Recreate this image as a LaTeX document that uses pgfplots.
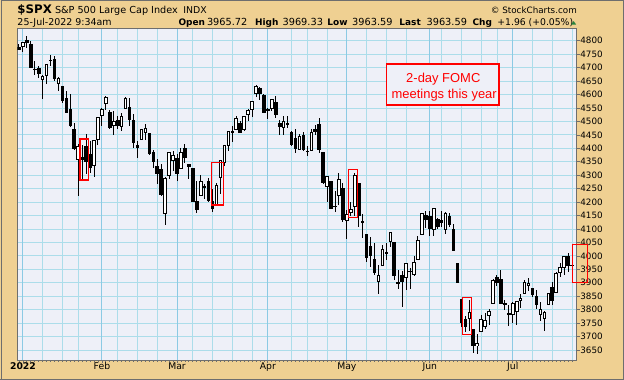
\documentclass[border=0pt]{standalone}
\usepackage{fontspec}
\setmainfont{DejaVu Sans}
\newfontfamily\arial{Liberation Sans}
\usepackage{pgfplots}
\usepackage{pgfplotstable}
\pgfplotsset{compat=1.18}
\definecolor{beige}{RGB}{239,208,146}
\definecolor{plotbg}{RGB}{238,240,248}
\definecolor{gridc}{RGB}{172,221,234}
\definecolor{monthc}{RGB}{140,202,228}
\definecolor{framec}{RGB}{110,110,110}
\definecolor{upgreen}{RGB}{40,130,60}

\pgfplotstableread{
i O H L C
0 4775.21 4786.83 4765.75 4766.18
1 4778.14 4796.64 4758.17 4796.56
2 4804.51 4818.62 4774.27 4793.54
3 4787.99 4797.70 4699.44 4700.58
4 4693.39 4725.01 4671.26 4696.05
5 4697.66 4707.95 4662.74 4677.03
6 4655.34 4673.02 4582.24 4670.29
7 4669.14 4714.13 4638.27 4713.07
8 4728.59 4748.83 4706.71 4726.35
9 4733.56 4744.13 4650.29 4659.03
10 4637.99 4665.13 4614.75 4662.85
11 4632.24 4632.24 4568.70 4577.11
12 4588.03 4611.55 4530.20 4532.76
13 4547.35 4602.11 4477.95 4482.73
14 4471.38 4494.52 4395.34 4397.94
15 4356.32 4417.35 4222.62 4410.13
16 4366.64 4411.01 4287.11 4356.45
17 4408.43 4453.23 4304.80 4349.93
18 4380.58 4428.74 4309.50 4326.51
19 4336.19 4432.72 4292.46 4431.85
20 4431.79 4516.89 4414.02 4515.55
21 4519.57 4550.49 4483.53 4546.54
22 4566.39 4595.31 4544.32 4589.38
23 4535.41 4542.88 4470.39 4477.44
24 4482.79 4539.66 4451.50 4500.53
25 4505.75 4521.86 4471.47 4483.87
26 4480.02 4531.32 4465.40 4521.54
27 4547.00 4590.03 4547.00 4587.18
28 4553.24 4588.92 4484.31 4504.08
29 4506.27 4526.33 4401.41 4418.64
30 4412.61 4426.22 4364.84 4401.67
31 4429.28 4472.77 4429.28 4471.07
32 4455.75 4489.55 4429.68 4475.01
33 4456.06 4456.06 4373.81 4380.26
34 4384.57 4394.60 4327.22 4348.87
35 4332.74 4362.12 4267.11 4304.76
36 4324.93 4341.51 4221.51 4225.50
37 4155.77 4294.73 4114.65 4288.70
38 4298.38 4385.34 4286.83 4384.65
39 4354.17 4388.84 4315.12 4373.94
40 4363.14 4378.45 4279.54 4306.26
41 4322.56 4401.48 4322.56 4386.54
42 4401.31 4416.78 4345.56 4363.49
43 4342.12 4342.12 4284.98 4328.87
44 4327.01 4327.01 4199.85 4201.09
45 4202.66 4276.94 4157.87 4170.70
46 4223.10 4299.40 4223.10 4277.88
47 4252.55 4268.28 4209.80 4259.52
48 4279.50 4291.01 4200.49 4204.31
49 4202.75 4247.57 4161.72 4173.11
50 4188.82 4271.05 4187.90 4262.45
51 4288.14 4357.86 4229.34 4357.86
52 4345.11 4412.67 4335.65 4411.67
53 4407.34 4465.40 4390.57 4463.12
54 4462.40 4481.75 4424.30 4461.18
55 4469.10 4522.00 4469.10 4511.61
56 4493.10 4501.07 4455.81 4456.24
57 4469.98 4520.58 4465.17 4520.16
58 4522.91 4546.03 4501.07 4543.06
59 4541.09 4575.65 4517.69 4575.52
60 4602.86 4637.30 4589.66 4631.60
61 4624.20 4627.77 4581.32 4602.45
62 4599.02 4603.07 4530.41 4530.41
63 4540.32 4548.70 4507.57 4545.86
64 4547.97 4583.50 4539.21 4582.64
65 4572.45 4593.45 4514.17 4525.12
66 4494.17 4503.94 4450.04 4481.15
67 4474.65 4521.16 4450.30 4500.21
68 4494.15 4520.41 4474.60 4488.28
69 4462.64 4464.35 4408.38 4412.53
70 4437.59 4471.00 4381.34 4397.45
71 4394.30 4453.92 4392.70 4446.59
72 4449.12 4460.46 4390.77 4392.59
73 4385.63 4410.31 4370.30 4391.69
74 4390.63 4471.03 4390.63 4462.21
75 4472.26 4488.29 4448.76 4459.45
76 4489.17 4512.94 4384.47 4393.66
77 4385.83 4385.83 4267.62 4271.78
78 4255.34 4299.02 4200.82 4296.12
79 4278.14 4278.14 4175.04 4175.20
80 4186.52 4240.71 4162.90 4183.96
81 4222.58 4308.45 4188.63 4287.50
82 4253.75 4269.68 4124.28 4131.93
83 4130.61 4169.81 4062.51 4155.38
84 4159.78 4200.10 4147.08 4175.48
85 4181.18 4307.66 4148.91 4300.17
86 4270.43 4270.43 4106.01 4146.87
87 4128.17 4157.69 4067.91 4123.34
88 4081.27 4081.27 3975.48 3991.24
89 4035.18 4068.82 3958.17 4001.05
90 3990.08 4049.09 3928.82 3935.18
91 3903.95 3964.80 3858.87 3930.08
92 3963.90 4038.88 3963.90 4023.89
93 4013.02 4046.46 3983.99 4008.01
94 4052.00 4090.72 4033.93 4088.85
95 4051.98 4051.98 3911.91 3923.68
96 3899.00 3945.96 3876.58 3900.79
97 3927.76 3943.42 3810.32 3901.36
98 3919.42 3975.30 3872.38 3973.75
99 3942.94 3955.68 3875.13 3941.48
100 3929.59 3999.33 3925.03 3978.73
101 3984.60 4075.14 3984.60 4057.84
102 4077.43 4158.49 4077.43 4158.24
103 4151.09 4168.34 4104.88 4132.15
104 4149.78 4166.54 4073.85 4101.23
105 4095.41 4177.51 4074.37 4176.82
106 4137.57 4142.67 4098.67 4108.54
107 4134.72 4168.78 4109.18 4121.43
108 4096.47 4164.86 4080.19 4160.68
109 4147.12 4160.14 4107.20 4115.77
110 4101.65 4119.10 4017.17 4017.82
111 3974.39 3974.39 3900.16 3900.86
112 3838.15 3838.15 3734.30 3749.63
113 3763.52 3778.18 3715.51 3735.48
114 3764.05 3837.56 3722.30 3789.99
115 3728.18 3728.18 3639.77 3666.77
116 3665.90 3707.71 3636.87 3674.84
117 3715.31 3779.65 3715.31 3764.79
118 3733.89 3785.99 3729.25 3759.89
119 3774.71 3802.58 3743.52 3795.73
120 3821.75 3913.65 3821.75 3911.74
121 3920.76 3927.72 3889.66 3900.11
122 3913.00 3945.86 3820.14 3821.55
123 3825.09 3836.50 3799.02 3818.83
124 3785.99 3818.99 3738.67 3785.38
125 3781.00 3829.82 3752.10 3825.33
126 3792.61 3832.19 3742.06 3831.39
127 3831.98 3858.94 3805.87 3845.08
128 3858.85 3910.63 3858.85 3902.62
129 3888.26 3918.50 3869.34 3899.38
130 3880.94 3880.94 3847.22 3854.43
131 3851.95 3873.41 3802.36 3818.80
132 3779.67 3829.44 3759.07 3801.78
133 3763.99 3796.41 3721.56 3790.38
134 3818.00 3863.62 3817.18 3863.16
135 3883.79 3902.44 3818.63 3830.85
136 3860.73 3939.81 3860.73 3936.69
137 3935.32 3974.13 3922.03 3959.90
138 3955.47 3999.29 3927.64 3998.95
139 4000.20 4012.44 3938.85 3961.63
140 3965.72 3969.33 3963.59 3963.59
}\candles

\begin{document}
\begin{tikzpicture}
\useasboundingbox (0,0) rectangle (624bp,380bp);
\fill[beige] (0,0) rectangle (624bp,380bp);
\draw[framec, line width=1bp] (1bp,0) -- (1bp,379bp) -- (623bp,379bp) -- (623bp,1bp) -- (0,1bp);
% header line 1
\node[anchor=base west, inner sep=0, font=\bfseries\fontsize{11.8}{12}\selectfont] at (17.3bp,366.5bp) {\$SPX};
\node[anchor=base west, inner sep=0, font=\fontsize{9.7}{10}\selectfont] at (54.8bp,366.5bp) {S\&P 500 Large Cap Index};
\node[anchor=base west, inner sep=0, font=\fontsize{9.4}{10}\selectfont] at (183.2bp,366.5bp) {INDX};
\node[anchor=base east, inner sep=0, font=\fontsize{8.8}{10}\selectfont] at (577bp,366.5bp) {© StockCharts.com};
% header line 2
\node[anchor=base west, inner sep=0, font=\fontsize{9.5}{10}\selectfont] at (17.3bp,354.5bp) {25-Jul-2022 9:34am};
\node[anchor=base west, inner sep=0, font=\bfseries\fontsize{9}{10}\selectfont] at (178.4bp,354.5bp) {Open};
\node[anchor=base west, inner sep=0, font=\fontsize{9.8}{10}\selectfont] at (206.8bp,354.5bp) {3965.72};
\node[anchor=base west, inner sep=0, font=\bfseries\fontsize{9}{10}\selectfont] at (254.8bp,354.5bp) {High};
\node[anchor=base west, inner sep=0, font=\fontsize{9.8}{10}\selectfont] at (282.4bp,354.5bp) {3969.33};
\node[anchor=base west, inner sep=0, font=\bfseries\fontsize{9}{10}\selectfont] at (327.2bp,354.5bp) {Low};
\node[anchor=base west, inner sep=0, font=\fontsize{9.8}{10}\selectfont] at (352bp,354.5bp) {3963.59};
\node[anchor=base west, inner sep=0, font=\bfseries\fontsize{9}{10}\selectfont] at (399.2bp,354.5bp) {Last};
\node[anchor=base west, inner sep=0, font=\fontsize{9.8}{10}\selectfont] at (426.4bp,354.5bp) {3963.59};
\node[anchor=base west, inner sep=0, font=\bfseries\fontsize{9}{10}\selectfont] at (472.4bp,354.5bp) {Chg};
\node[anchor=base west, inner sep=0, font=\fontsize{9.3}{10}\selectfont] at (497.2bp,354.5bp) {+1.96 (+0.05\%)};
\fill[upgreen] (571bp,355.4bp) -- (576.2bp,355.4bp) -- (573.6bp,358.9bp) -- cycle;

\begin{axis}[
  at={(17.3bp,19.5bp)}, anchor=south west,
  scale only axis, width=559.4bp, height=331.8bp,
  xmin=-0.43, xmax=141.19, ymin=3611, ymax=4845,
  axis background/.style={fill=plotbg},
  axis line style={draw=framec, line width=1bp},
  tick align=outside,
  major tick length=3bp, minor tick length=1.5bp,
  xtick={1,21,40,63,83,104,125},
  xticklabels={\textbf{2022},Feb,Mar,Apr,May,Jun,Jul},
  minor xtick={0,1,...,140},
  xtick pos=bottom,
  ytick={3650,3700,...,4800},
  ytick pos=right, yticklabel pos=right,
  ymajorgrids,
  major grid style={gridc, line width=0.9bp},
  tick style={draw=framec, line width=0.8bp},
  xticklabel style={font=\fontsize{9.3}{10}\selectfont, anchor=base, yshift=-5.8bp},
  yticklabel style={font=\fontsize{8.8}{10}\selectfont, anchor=west, inner sep=0.5bp},
  /pgf/number format/.cd, 1000 sep={}, assume math mode=true,
]
% weekly grid lines
\foreach \w in {6,11,15,25,30,35,44,49,54,59,69,73,78,88,93,98,107,112,117,121,130,135,140}{
  \edef\tmp{\noexpand\draw[gridc, line width=0.9bp] (axis cs:\w,3611) -- (axis cs:\w,4845);}\tmp
}
% month grid lines
\foreach \m in {1,21,40,63,83,104,125}{
  \edef\tmp{\noexpand\draw[monthc, line width=1bp] (axis cs:\m,3611) -- (axis cs:\m,4845);}\tmp
}
% wicks
\addplot[draw=none, mark=none, error bars/.cd, y dir=both, y explicit, error mark=none,
  error bar style={line width=1bp, draw=black}]
  table[x=i, y expr={(\thisrow{H}+\thisrow{L})/2}, y error expr={(\thisrow{H}-\thisrow{L})/2}] {\candles};
% bodies (outer black)
\addplot[draw=none, mark=none, error bars/.cd, y dir=both, y explicit, error mark=none,
  error bar style={line width=3.6bp, draw=black}]
  table[x=i, y expr={(\thisrow{O}+\thisrow{C})/2}, y error expr={max(abs(\thisrow{C}-\thisrow{O})/2,2)}] {\candles};
% hollow interiors
\addplot[draw=none, mark=none, error bars/.cd, y dir=both, y explicit, error mark=none,
  error bar style={line width=1.6bp, draw=white}]
  table[x=i, y expr={ifthenelse(\thisrow{C}>\thisrow{O},(\thisrow{O}+\thisrow{C})/2,3000)}, y error expr={max((\thisrow{C}-\thisrow{O})/2-3.7,0)}] {\candles};
% FOMC boxes
\draw[red, line width=1.2bp] (axis cs:15.44,4282) rectangle (axis cs:17.54,4435);
\draw[red, line width=1.2bp] (axis cs:48.68,4189) rectangle (axis cs:51.72,4348);
\draw[red, line width=1.2bp] (axis cs:83.37,4143) rectangle (axis cs:85.65,4322);
\draw[red, line width=1.2bp] (axis cs:112.2,3707) rectangle (axis cs:114.5,3846);
\coordinate (jula) at (axis cs:140.1,3902);
\coordinate (julb) at (axis cs:143.9,4043);
\end{axis}
\draw[red, line width=1.2bp] (jula) rectangle (julb);
% annotation box
\draw[red, line width=1.2bp, fill=plotbg] (386.7bp,275bp) rectangle (499bp,316bp);
\node[anchor=base, inner sep=0, text=red, font=\arial\fontsize{13}{14}\selectfont] at (443.3bp,297.3bp) {2-day FOMC};
\node[anchor=base, inner sep=0, text=red, font=\arial\fontsize{13}{14}\selectfont] at (444.2bp,281bp) {meetings this year};
\end{tikzpicture}
\end{document}
